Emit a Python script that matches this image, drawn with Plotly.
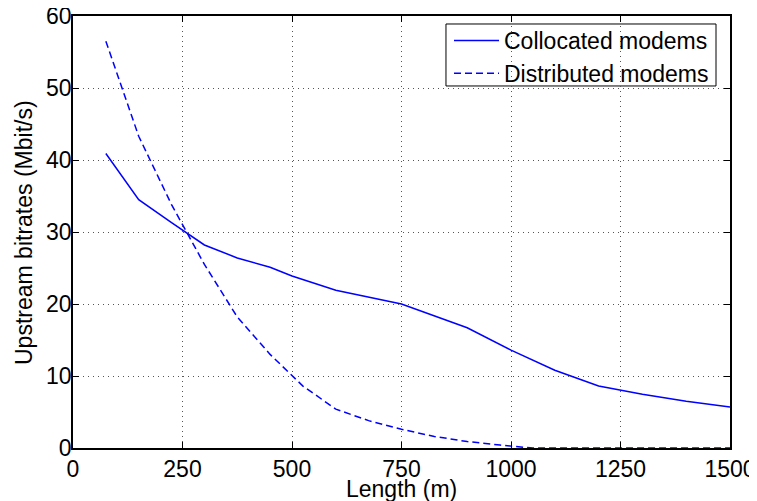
import plotly.graph_objects as go

length_colloc = [75, 150, 225, 300, 375, 450, 500, 600, 750, 900, 1000, 1100, 1200, 1250, 1300, 1400, 1500]
rate_colloc = [40.9, 34.5, 31.3, 28.2, 26.4, 25.1, 23.9, 21.9, 20.0, 16.7, 13.6, 10.8, 8.6, 8.0, 7.45, 6.5, 5.7]

length_distr = [75, 150, 225, 300, 375, 450, 525, 600, 675, 750, 825, 900, 975, 1000, 1050, 1200, 1350, 1500]
rate_distr = [56.5, 43.3, 33.8, 25.5, 18.2, 13.0, 8.6, 5.4, 3.8, 2.6, 1.6, 0.9, 0.4, 0.3, 0.0, 0.0, 0.0, 0.0]

x_ticks = [0, 250, 500, 750, 1000, 1250, 1500]
y_ticks = [0, 10, 20, 30, 40, 50, 60]

x_title = "Length (m)"
y_title = "Upstream bitrates (Mbit/s)"

FONT = "Liberation Sans, Arial, Helvetica, sans-serif"

fig = go.Figure()
fig.add_trace(go.Scatter(x=length_colloc, y=rate_colloc, mode="lines",
                         name="Collocated modems",
                         line=dict(color="#0000ff", width=1.5)))
fig.add_trace(go.Scatter(x=length_distr, y=rate_distr, mode="lines",
                         name="Distributed modems",
                         line=dict(color="#0000ff", width=1.5, dash="7px,4px")))

axis_common = dict(
    showline=True, linecolor="black", linewidth=1.5, mirror="ticks",
    ticks="inside", ticklen=6, tickcolor="black", tickwidth=1,
    showgrid=True, gridcolor="#555555", gridwidth=1, griddash="1px,4px",
    zeroline=False, automargin=False, ticklabeloverflow="allow",
    tickfont=dict(family=FONT, size=23, color="black"),
)

fig.update_xaxes(range=[0, 1500], tickvals=x_ticks, ticktext=[str(v) for v in x_ticks],
                 **axis_common)
fig.update_yaxes(range=[0, 60], tickvals=y_ticks, ticktext=[str(v) for v in y_ticks],
                 ticklabelstandoff=-5, **axis_common)

# axis titles
fig.add_annotation(text=x_title, xref="paper", yref="paper", x=0.5, y=-0.0602,
                   xanchor="center", yanchor="top", showarrow=False,
                   font=dict(family=FONT, size=23, color="black"))
fig.add_annotation(text=y_title, xref="paper", yref="paper", x=-0.0746, y=0.5,
                   xanchor="center", yanchor="middle", textangle=-90, showarrow=False,
                   font=dict(family=FONT, size=23, color="black"))

# legend frame (drawn between grid and traces so it hides the grid like the original)
fig.add_shape(type="rect", xref="paper", yref="paper",
              x0=0.5677, x1=0.9787, y0=0.838, y1=0.9815,
              line=dict(color="black", width=1), fillcolor="white", layer="between")

fig.update_layout(
    width=757, height=501, autosize=False,
    margin=dict(l=65, r=35, t=8, b=61, autoexpand=False),
    plot_bgcolor="white", paper_bgcolor="white",
    font=dict(family=FONT, size=23, color="black"),
    legend=dict(x=0.5723, y=0.9931, xanchor="left", yanchor="top",
                bgcolor="rgba(0,0,0,0)", borderwidth=0,
                font=dict(family=FONT, size=23, color="black"),
                tracegroupgap=0, itemwidth=45),
    showlegend=True,
)

fig.write_html("out.html")
